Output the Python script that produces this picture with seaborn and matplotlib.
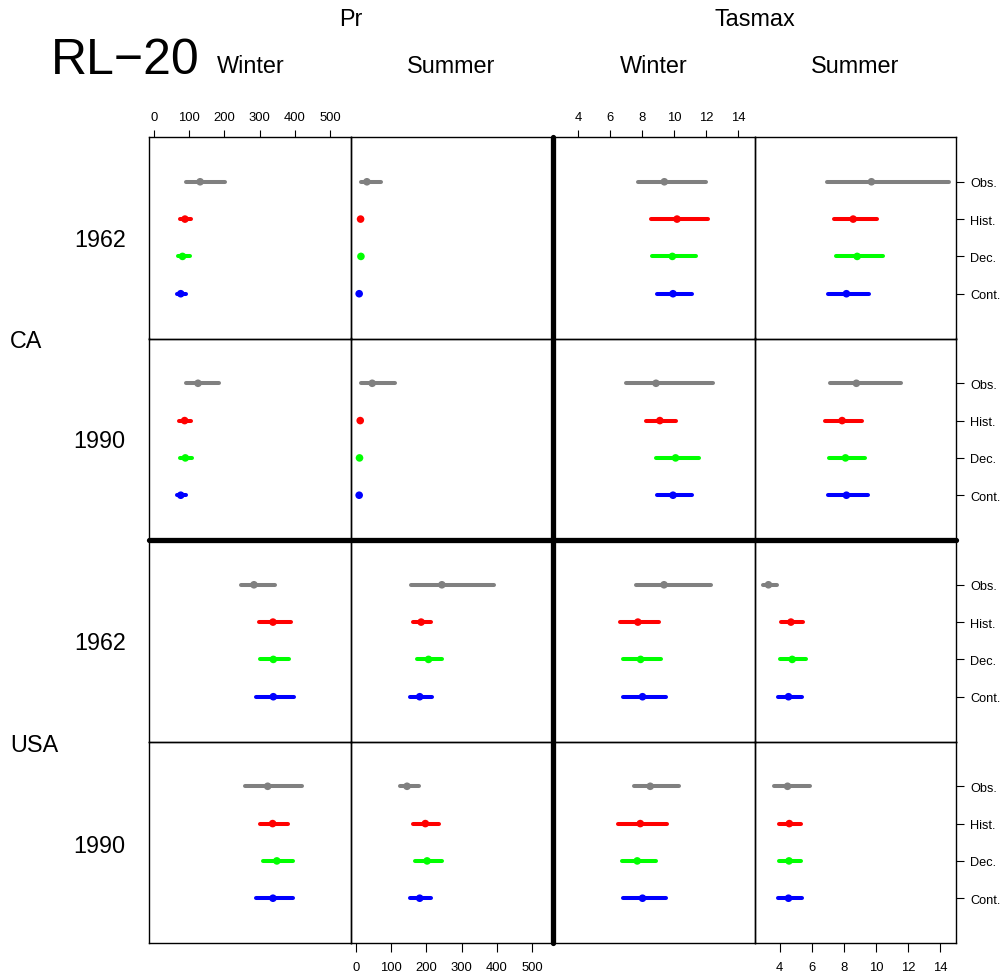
import numpy as np
import pandas as pd
import matplotlib
matplotlib.use("Agg")
import matplotlib.pyplot as plt
import seaborn as sns
from matplotlib.lines import Line2D

sns.set_theme(style="white")
plt.rcParams['font.family'] = ['Liberation Sans', 'DejaVu Sans']
plt.rcParams['text.color'] = 'black'
plt.rcParams['xtick.color'] = 'black'
plt.rcParams['ytick.color'] = 'black'
plt.rcParams['axes.edgecolor'] = 'black'

# ---------------- data ----------------
models = ["Obs.", "Hist.", "Dec.", "Cont."]
model_colors = ["#808080", "#FF0000", "#00FF00", "#0000FF"]
regions = ["CA", "USA"]
years = ["1962", "1990"]
variables = ["Pr", "Tasmax"]
seasons = ["Winter", "Summer"]
pr_ticks = [0, 100, 200, 300, 400, 500]
tas_ticks = [4, 6, 8, 10, 12, 14]

# (low, estimate, high) for Obs., Hist., Dec., Cont.
ca_1962_pr_winter = [(91, 131, 202), (75, 88, 106), (68, 81, 101), (64, 76, 90)]
ca_1962_pr_summer = [(13, 31, 72), (10, 13, 16), (11, 14, 17), (6, 9, 12)]
ca_1962_tas_winter = [(7.75, 9.38, 12.0), (8.56, 10.17, 12.13), (8.62, 9.88, 11.38), (8.91, 9.92, 11.09)]
ca_1962_tas_summer = [(6.93, 9.73, 14.55), (7.4, 8.59, 10.07), (7.5, 8.84, 10.44), (7.02, 8.17, 9.59)]
ca_1990_pr_winter = [(90, 125, 184), (72, 87, 105), (75, 89, 108), (65, 76, 91)]
ca_1990_pr_summer = [(15, 46, 111), (10, 12, 14), (8, 10, 12), (7, 9, 11)]
ca_1990_tas_winter = [(6.98, 8.86, 12.42), (8.26, 9.1, 10.11), (8.85, 10.08, 11.57), (8.91, 9.92, 11.13)]
ca_1990_tas_summer = [(7.12, 8.79, 11.57), (6.85, 7.9, 9.13), (7.08, 8.11, 9.3), (7.0, 8.17, 9.51)]
usa_1962_pr_winter = [(247, 284, 345), (297, 338, 390), (301, 339, 383), (290, 339, 397)]
usa_1962_pr_summer = [(157, 244, 391), (163, 185, 212), (174, 206, 245), (154, 181, 216)]
usa_1962_tas_winter = [(7.62, 9.36, 12.26), (6.64, 7.73, 9.02), (6.83, 7.9, 9.15), (6.81, 8.02, 9.48)]
usa_1962_tas_summer = [(2.98, 3.31, 3.86), (4.08, 4.71, 5.44), (4.0, 4.79, 5.67), (3.91, 4.56, 5.42)]
usa_1990_pr_winter = [(259, 323, 420), (301, 337, 380), (311, 349, 394), (290, 338, 395)]
usa_1990_pr_summer = [(125, 145, 180), (163, 197, 237), (167, 202, 245), (153, 181, 212)]
usa_1990_tas_winter = [(7.5, 8.5, 10.32), (6.52, 7.88, 9.55), (6.72, 7.69, 8.84), (6.81, 8.02, 9.46)]
usa_1990_tas_summer = [(3.66, 4.5, 5.88), (3.98, 4.61, 5.32), (3.96, 4.59, 5.32), (3.9, 4.56, 5.41)]

panels = [
    [ca_1962_pr_winter, ca_1962_pr_summer, ca_1962_tas_winter, ca_1962_tas_summer],
    [ca_1990_pr_winter, ca_1990_pr_summer, ca_1990_tas_winter, ca_1990_tas_summer],
    [usa_1962_pr_winter, usa_1962_pr_summer, usa_1962_tas_winter, usa_1962_tas_summer],
    [usa_1990_pr_winter, usa_1990_pr_summer, usa_1990_tas_winter, usa_1990_tas_summer],
]

# ---------------- layout ----------------
W, H = 1006, 979
fig = plt.figure(figsize=(W / 100, H / 100), dpi=100)
fig.patch.set_facecolor("white")

xe = [149, 351, 553, 754.5, 956]
ye = [138, 339.5, 541, 742.5, 944]


def fx(px):
    return px / W


def fy(py):
    return 1 - py / H


pr_lim = (-14.2, 559.7)
tas_lim = (2.44, 15.0)
positions = [4, 3, 2, 1]
palette = dict(zip(models, model_colors))

for r in range(4):
    for c in range(4):
        ax = fig.add_axes([fx(xe[c]), fy(ye[r + 1]), (xe[c + 1] - xe[c]) / W, (ye[r + 1] - ye[r]) / H])
        d = panels[r][c]
        df = pd.DataFrame({
            "model": models,
            "lo": [v[0] for v in d],
            "est": [v[1] for v in d],
            "hi": [v[2] for v in d],
            "pos": positions,
        })
        ax.hlines(df["pos"], df["lo"], df["hi"], colors=model_colors, lw=2.9,
                  capstyle="round", zorder=2)
        sns.scatterplot(data=df, x="est", y="pos", hue="model", palette=palette,
                        s=30, linewidth=0, legend=False, ax=ax, zorder=3)
        ax.set_xlim(pr_lim if c < 2 else tas_lim)
        ax.set_ylim(-0.2, 5.2)
        ax.set_xlabel("")
        ax.set_ylabel("")
        ax.set_facecolor("none")
        for s in ax.spines.values():
            s.set_color("black")
            s.set_linewidth(1.0)
        ax.set_xticks([])
        ax.set_yticks([])
        ticks = pr_ticks if c < 2 else tas_ticks
        if r == 0 and c in (0, 2):
            ax.set_xticks(ticks)
            ax.set_xticklabels([str(t) for t in ticks])
            ax.tick_params(axis="x", top=True, bottom=False, labeltop=True, labelbottom=False,
                           length=5.4, width=0.8, pad=5, labelsize=9.4, direction="out")
        if r == 3 and c in (1, 3):
            ax.set_xticks(ticks)
            ax.set_xticklabels([str(t) for t in ticks])
            ax.tick_params(axis="x", top=False, bottom=True, labeltop=False, labelbottom=True,
                           length=6.2, width=0.8, pad=7, labelsize=9.4, direction="out")
        if c == 3:
            ax.set_yticks(positions)
            ax.set_yticklabels(models)
            ax.tick_params(axis="y", left=False, right=True, labelleft=False, labelright=True,
                           length=5.4, width=0.8, pad=5, labelsize=9.2, direction="out")

# thick separators
fig.add_artist(Line2D([fx(553), fx(553)], [fy(138), fy(944)], lw=3.8, color="black",
                      solid_capstyle="round", transform=fig.transFigure, zorder=10))
fig.add_artist(Line2D([fx(149), fx(956)], [fy(541), fy(541)], lw=3.8, color="black",
                      solid_capstyle="round", transform=fig.transFigure, zorder=10))

# headers
fig.text(fx(125), fy(74), "RL\u221220", fontsize=36, ha="center", va="baseline")
fig.text(fx(351), fy(26), variables[0], fontsize=16.8, ha="center", va="baseline")
fig.text(fx(754.5), fy(26.5), variables[1], fontsize=16.8, ha="center", va="baseline")
for cx, s in zip([250.5, 451.3, 653.7, 855], seasons * 2):
    fig.text(fx(cx), fy(73.3), s, fontsize=16.8, ha="center", va="baseline")

# row labels
for cy, yr in zip([246.7, 448.3, 650, 853.3], years * 2):
    fig.text(fx(99.7), fy(cy), yr, fontsize=16.8, ha="center", va="baseline")
fig.text(fx(10), fy(348.3), regions[0], fontsize=16.8, ha="left", va="baseline")
fig.text(fx(10), fy(751.7), regions[1], fontsize=16.8, ha="left", va="baseline")

fig.savefig("out.png", dpi=100, facecolor="white")
